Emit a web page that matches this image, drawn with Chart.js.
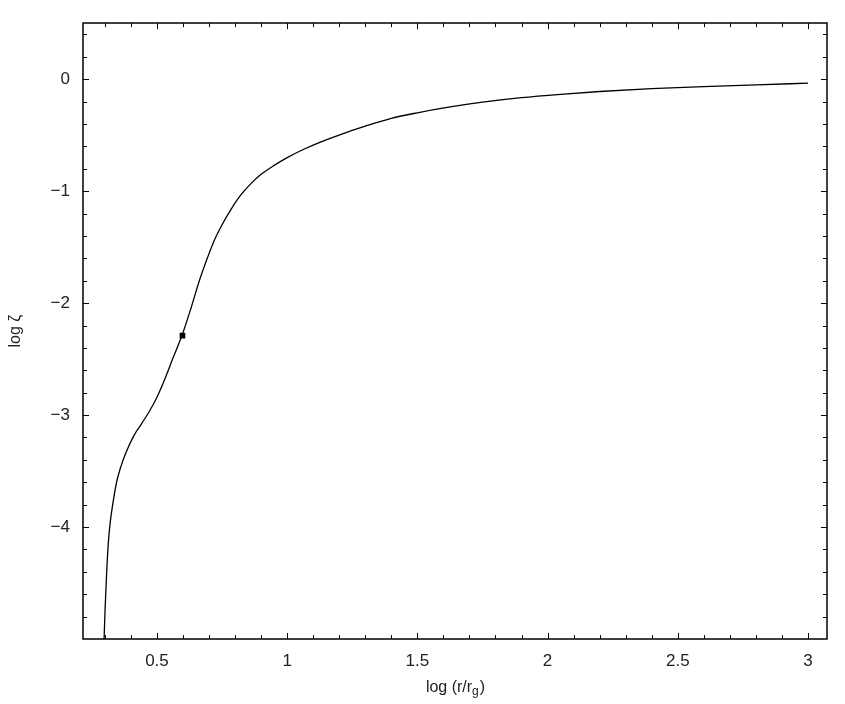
<!DOCTYPE html>
<html>
<head>
<meta charset="utf-8">
<script src="https://cdn.jsdelivr.net/npm/chart.js@4"></script>
<style>
  body { margin: 0; background: #fff; }
  canvas { display: block; }
</style>
</head>
<body>
<canvas id="chart" width="845" height="704"></canvas>
<script>
// curve: log(r/rg) vs log zeta
const logR = [0.297, 0.301, 0.307, 0.313, 0.320, 0.330, 0.345, 0.360, 0.380, 0.410, 0.440, 0.470, 0.500, 0.530, 0.560, 0.596,
  0.630, 0.660, 0.690, 0.720, 0.750, 0.785, 0.820, 0.860, 0.900, 0.950, 1.00, 1.06, 1.13, 1.21, 1.30, 1.40, 1.50, 1.62, 1.75,
  1.90, 2.05, 2.20, 2.40, 2.60, 2.80, 3.00];
const logZeta = [-5.0, -4.72, -4.40, -4.15, -3.97, -3.80, -3.60, -3.47, -3.34, -3.19, -3.08, -2.97, -2.84, -2.68, -2.50, -2.29,
  -2.05, -1.82, -1.62, -1.44, -1.30, -1.16, -1.04, -0.935, -0.85, -0.77, -0.70, -0.63, -0.56, -0.49, -0.42, -0.35, -0.30, -0.25, -0.205,
  -0.165, -0.135, -0.11, -0.085, -0.066, -0.050, -0.036];

// marked point
const markX = [0.598];
const markY = [-2.29];

// tick labels
const xTicks = [0.5, 1, 1.5, 2, 2.5, 3];
const yTicks = [-4, -3, -2, -1, 0];

const FONT = "'Liberation Sans', Arial, sans-serif";

// inward ticks on all four sides + frame + x title with subscript
const framePlugin = {
  id: "frame",
  afterDraw(chart) {
    const { ctx, chartArea: a, scales } = chart;
    const xs = scales.x, ys = scales.y;
    ctx.save();
    ctx.strokeStyle = "#000";
    ctx.lineWidth = 1;
    ctx.beginPath();
    // x ticks every 0.1, longer at the labelled ones
    for (let i = 3; i <= 30; i++) {
      const px = Math.round(xs.getPixelForValue(i / 10)) + 0.5;
      const len = (i % 5 === 0) ? 6 : 4;
      ctx.moveTo(px, a.bottom); ctx.lineTo(px, a.bottom - len);
      ctx.moveTo(px, a.top); ctx.lineTo(px, a.top + len);
    }
    // y ticks every 0.2
    for (let i = -24; i <= 2; i++) {
      const py = Math.round(ys.getPixelForValue(i / 5)) + 0.5;
      const len = (i % 5 === 0) ? 6 : 4;
      ctx.moveTo(a.left, py); ctx.lineTo(a.left + len, py);
      ctx.moveTo(a.right, py); ctx.lineTo(a.right - len, py);
    }
    ctx.stroke();
    ctx.lineWidth = 1.5;
    ctx.strokeRect(Math.round(a.left), Math.round(a.top), Math.round(a.right - a.left), Math.round(a.bottom - a.top));

    // x axis title: log (r/r_g)
    const cx = (a.left + a.right) / 2;
    const base = 692;
    ctx.fillStyle = "#222";
    ctx.textBaseline = "alphabetic";
    ctx.textAlign = "left";
    const p1 = "log (r/r", p3 = ")";
    ctx.font = "16px " + FONT;
    const w1 = ctx.measureText(p1).width;
    const w3 = ctx.measureText(p3).width;
    ctx.font = "12px " + FONT;
    const w2 = ctx.measureText("g").width;
    const x0 = cx - (w1 + w2 + w3) / 2;
    ctx.font = "16px " + FONT;
    ctx.fillText(p1, x0, base);
    ctx.font = "12px " + FONT;
    ctx.fillText("g", x0 + w1, base + 3);
    ctx.font = "16px " + FONT;
    ctx.fillText(p3, x0 + w1 + w2 + 1, base);
    ctx.restore();
  }
};

new Chart(document.getElementById("chart"), {
  type: "scatter",
  data: {
    datasets: [
      {
        data: logR.map((x, i) => ({ x: x, y: logZeta[i] })),
        showLine: true,
        borderColor: "#000",
        borderWidth: 1.3,
        pointRadius: 0,
        cubicInterpolationMode: "monotone",
        fill: false
      },
      {
        data: markX.map((x, i) => ({ x: x, y: markY[i] })),
        pointStyle: "rect",
        pointRadius: 4,
        backgroundColor: "#000",
        borderColor: "#000",
        borderWidth: 0
      }
    ]
  },
  options: {
    responsive: false,
    animation: false,
    layout: { padding: { top: 19, right: 18, left: 0, bottom: 0 } },
    plugins: { legend: { display: false }, tooltip: { enabled: false } },
    scales: {
      x: {
        type: "linear",
        min: 0.216,
        max: 3.073,
        afterBuildTicks: s => { s.ticks = xTicks.map(v => ({ value: v })); },
        afterFit: s => { s.height = 65; },
        grid: { display: false, drawTicks: false },
        border: { display: false },
        ticks: {
          color: "#222",
          font: { family: FONT, size: 17 },
          padding: 12,
          maxRotation: 0,
          autoSkip: false,
          callback: v => String(v)
        }
      },
      y: {
        type: "linear",
        min: -5,
        max: 0.5,
        afterBuildTicks: s => { s.ticks = yTicks.map(v => ({ value: v })); },
        afterFit: s => { s.width = 83; },
        grid: { display: false, drawTicks: false },
        border: { display: false },
        title: {
          display: true,
          text: "log ζ",
          color: "#222",
          font: { family: FONT, size: 16 },
          padding: { top: 6, bottom: 0 }
        },
        ticks: {
          color: "#222",
          font: { family: FONT, size: 17 },
          padding: 13,
          autoSkip: false,
          callback: v => (v < 0 ? "\u2212" + Math.abs(v) : String(v))
        }
      }
    }
  },
  plugins: [framePlugin]
});
</script>
</body>
</html>
